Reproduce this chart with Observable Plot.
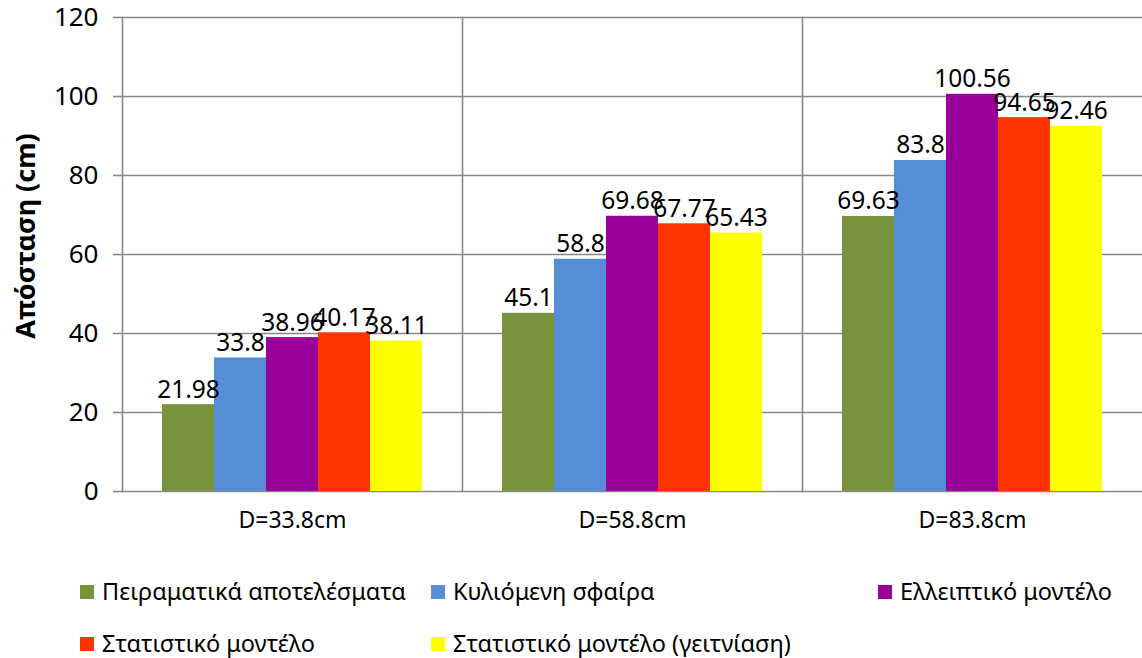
<!DOCTYPE html>
<html><head><meta charset="utf-8">
<script src="https://cdn.jsdelivr.net/npm/d3@7"></script>
<script src="https://cdn.jsdelivr.net/npm/@observablehq/plot@0.6"></script>
<style>
body{margin:0;background:#fff;font-family:"Noto Sans",sans-serif;}
#wrap{position:relative;width:1142px;height:658px;overflow:hidden;background:#fff}
.lg{position:absolute;display:flex;align-items:center;font-size:23.5px;color:#000;white-space:nowrap;line-height:1}
.sw{width:14px;height:14px;margin-right:8px;flex:none}
</style></head><body><div id="wrap"></div>
<script>
const categories = ["D=33.8cm", "D=58.8cm", "D=83.8cm"];
const series = ["Πειραματικά αποτελέσματα", "Κυλιόμενη σφαίρα", "Ελλειπτικό μοντέλο", "Στατιστικό μοντέλο", "Στατιστικό μοντέλο (γειτνίαση)"];
const colors = ["#77933C", "#558ED5", "#990099", "#FF3300", "#FFFF00"];
const experimental = [21.98, 45.1, 69.63];
const rollingSphere = [33.8, 58.8, 83.8];
const ellipticModel = [38.96, 69.68, 100.56];
const statisticalModel = [40.17, 67.77, 94.65];
const statisticalNeighbour = [38.11, 65.43, 92.46];
const yTicks = [0, 20, 40, 60, 80, 100, 120];
const yLabel = "Απόσταση (cm)";

const seriesValues = [experimental, rollingSphere, ellipticModel, statisticalModel, statisticalNeighbour];
const data = [];
categories.forEach((c, i) => series.forEach((s, j) => data.push({category: c, series: s, value: seriesValues[j][i]})));

const grid = "#898989";
const chart = Plot.plot({
  width: 1142,
  height: 560,
  marginLeft: 122,
  marginRight: 0,
  marginTop: 17,
  marginBottom: 69,
  style: {fontFamily: "'Noto Sans', sans-serif", fontSize: "23px", color: "#000", background: "#fff"},
  fx: {domain: categories, padding: 0},
  x: {domain: series, paddingInner: 0, paddingOuter: 0.74, axis: null},
  y: {domain: [0, 120]},
  color: {domain: series, range: colors},
  marks: [
    Plot.gridY(yTicks, {stroke: grid, strokeOpacity: 1, strokeWidth: 1.6}),
    Plot.frame({anchor: "left", stroke: grid, strokeWidth: 1.6}),
    Plot.axisY(yTicks, {tickSize: 9, tickPadding: 15, stroke: grid, strokeWidth: 1.6, fontSize: 26, label: yLabel, labelAnchor: "center", labelOffset: 96, labelArrow: "none"}),
    Plot.axisFx({anchor: "bottom", tickSize: 0, tickPadding: 20, label: null, fontSize: 23}),
    Plot.barY(data, {fx: "category", x: "series", y: "value", fill: "series"}),
    Plot.text(data, {fx: "category", x: "series", y: "value", text: d => String(d.value), lineAnchor: "bottom", dy: -7, fontSize: 24.5, fill: "#000"})
  ]
});
const wrap = document.getElementById("wrap");
wrap.appendChild(chart);

// style and position the y-axis title
const lab = chart.querySelector('[aria-label="y-axis label"] text');
if (lab) {
  lab.setAttribute("font-weight", "bold");
  lab.setAttribute("font-size", "27");
  lab.removeAttribute("x"); lab.removeAttribute("y");
  lab.setAttribute("transform", "translate(26,236) rotate(-90)");
  lab.setAttribute("text-anchor", "middle");
  lab.setAttribute("dy", "0.35em");
  const g = lab.parentNode;
  g.removeAttribute("transform");
}

const legendPos = [[80, 592], [431, 592], [878, 592], [80, 644], [431, 644]];
series.forEach((s, i) => {
  const d = document.createElement("div");
  d.className = "lg";
  d.style.left = legendPos[i][0] + "px";
  d.style.top = (legendPos[i][1] - 12) + "px";
  d.style.height = "24px";
  const sw = document.createElement("span");
  sw.className = "sw";
  sw.style.background = colors[i];
  const t = document.createElement("span");
  t.textContent = s;
  d.appendChild(sw); d.appendChild(t);
  wrap.appendChild(d);
});
</script></body></html>
